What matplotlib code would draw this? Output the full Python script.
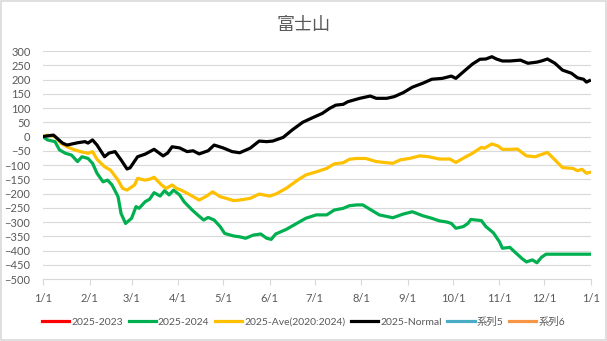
"""Fujisan cumulative difference chart for 2025 vs comparison years."""

import matplotlib

matplotlib.use("Agg")
import matplotlib.dates as mdates
import matplotlib.pyplot as plt
import pandas as pd
from matplotlib.patches import Rectangle
from matplotlib.ticker import FuncFormatter, MultipleLocator

START = pd.Timestamp("2025-01-01")

# days since 1/1 and values for each series
days_2024 = [0, 3, 8, 11, 15, 19, 23, 26, 30, 33, 36, 40, 43, 46, 50, 52, 55, 59, 62, 64,
             68, 71, 74, 78, 81, 84, 87, 91, 94, 99, 103, 107, 110, 114, 118, 121, 127, 131,
             135, 140, 145, 149, 152, 155, 162, 169, 175, 182, 189, 194, 200, 204, 209, 213,
             218, 224, 233, 240, 246, 253, 259, 264, 269, 272, 275, 280, 283, 285, 292, 295,
             300, 304, 306, 311, 314, 319, 322, 326, 329, 332, 335, 364]
vals_2024 = [-1, -12, -18, -47, -59, -65, -88, -71, -77, -94, -129, -159, -153, -170, -211,
             -270, -305, -287, -246, -252, -229, -220, -197, -209, -190, -205, -188, -205,
             -229, -256, -275, -293, -284, -293, -316, -340, -349, -352, -357, -346, -342,
             -357, -361, -342, -326, -305, -287, -275, -275, -258, -252, -243, -240, -240,
             -256, -275, -285, -272, -264, -278, -287, -296, -300, -305, -322, -316, -305,
             -291, -295, -316, -338, -369, -392, -389, -404, -428, -440, -433, -443, -424,
             -413, -413]

days_ave = [0, 3, 8, 12, 16, 21, 25, 30, 33, 36, 41, 45, 50, 53, 56, 61, 63, 68, 71, 74,
            79, 82, 86, 89, 92, 96, 100, 104, 109, 113, 118, 122, 127, 131, 138, 144, 151,
            155, 162, 169, 175, 182, 189, 194, 200, 204, 209, 215, 222, 229, 233, 238, 244,
            251, 257, 264, 271, 275, 281, 286, 292, 294, 299, 303, 306, 312, 316, 322, 328,
            331, 336, 341, 346, 353, 356, 359, 362, 364]
vals_ave = [0, 5, 0, -24, -36, -47, -53, -59, -53, -80, -106, -118, -153, -182, -188, -170,
            -147, -153, -150, -143, -170, -182, -170, -182, -188, -199, -211, -223, -209,
            -194, -211, -217, -225, -223, -217, -202, -209, -202, -182, -155, -135, -124,
            -112, -96, -92, -80, -77, -77, -88, -92, -94, -82, -77, -68, -71, -79, -79, -91,
            -73, -59, -38, -41, -26, -33, -45, -45, -44, -68, -71, -65, -56, -82, -109, -112,
            -120, -115, -129, -126]

days_normal = [0, 7, 13, 16, 23, 28, 30, 33, 36, 41, 44, 48, 52, 56, 58, 63, 68, 74, 80,
               83, 86, 91, 96, 100, 104, 110, 114, 120, 126, 131, 138, 144, 149, 153, 160,
               166, 173, 180, 186, 191, 195, 200, 203, 211, 218, 222, 229, 234, 240, 246,
               253, 259, 266, 272, 275, 280, 286, 291, 295, 299, 302, 306, 311, 318, 323,
               329, 332, 336, 341, 346, 352, 356, 360, 362, 364]
vals_normal = [0, 5, -23, -30, -22, -18, -23, -12, -30, -71, -58, -53, -82, -114, -110, -71,
               -62, -45, -68, -58, -36, -40, -53, -50, -61, -50, -30, -40, -53, -57, -41, -16,
               -18, -16, -3, 23, 50, 67, 81, 99, 110, 113, 122, 134, 142, 134, 134, 140, 154,
               173, 187, 201, 204, 212, 204, 227, 254, 271, 272, 280, 272, 265, 265, 268, 257,
               261, 265, 272, 257, 233, 222, 206, 201, 191, 196]

series = [
    ("2025-2023", [], [], "#FF0000"),
    ("2025-2024", days_2024, vals_2024, "#00B050"),
    ("2025-Ave(2020:2024)", days_ave, vals_ave, "#FFC000"),
    ("2025-Normal", days_normal, vals_normal, "#000000"),
    ("系列5", [], [], "#4BACC6"),
    ("系列6", [], [], "#F79646"),
]

plt.rcParams["font.family"] = ["Lato", "Noto Sans CJK JP"]
TEXT = "#595959"
GRID = "#D9D9D9"

fig = plt.figure(figsize=(6.07, 3.41), dpi=100)
fig.patches.append(Rectangle((0.001, 0.002), 0.997, 0.995, transform=fig.transFigure,
                             fill=False, edgecolor=GRID, linewidth=1.2))
ax = fig.add_axes([0.0708, 0.1818, 0.9028, 0.6686])

for label, d, v, color in series:
    x = [START + pd.Timedelta(days=i) for i in d]
    ax.plot(x, v, color=color, linewidth=2.3, label=label, solid_joinstyle="round")

ax.set_ylim(-500, 300)
ax.yaxis.set_major_locator(MultipleLocator(50))
ax.set_xlim(START, pd.Timestamp("2026-01-01"))
ax.xaxis.set_major_locator(mdates.MonthLocator())
ax.xaxis.set_major_formatter(
    FuncFormatter(lambda n, _: f"{mdates.num2date(n).month}/{mdates.num2date(n).day}"))

ax.grid(axis="y", color=GRID, linewidth=0.8)
ax.set_axisbelow(True)
for side in ["top", "right", "left"]:
    ax.spines[side].set_visible(False)
ax.spines["bottom"].set_color(GRID)
ax.spines["bottom"].set_linewidth(0.8)
ax.tick_params(axis="y", length=0, labelsize=8, labelcolor=TEXT, pad=9)
ax.tick_params(axis="x", length=4, color=GRID, labelsize=8, labelcolor=TEXT, pad=6)

fig.text(0.5, 0.927, "富士山", ha="center", va="center", fontsize=13, color=TEXT)
fig.legend(loc="center", bbox_to_anchor=(0.5, 0.056), ncol=6, frameon=False,
           fontsize=7.5, labelcolor=TEXT, handlelength=2.6, handletextpad=0.2,
           columnspacing=0.55)

fig.savefig("out.png", dpi=100)
